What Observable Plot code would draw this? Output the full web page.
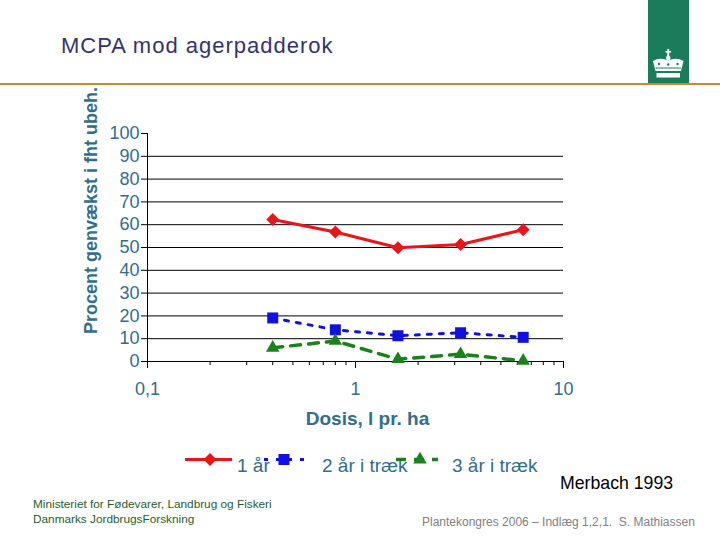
<!DOCTYPE html>
<html>
<head>
<meta charset="utf-8">
<script src="https://cdn.jsdelivr.net/npm/d3@7"></script>
<script src="https://cdn.jsdelivr.net/npm/@observablehq/plot@0.6"></script>
<style>
  body { margin: 0; background: #fff; }
  #page { position: relative; width: 720px; height: 540px; overflow: hidden; font-family: "Liberation Sans", Arial, sans-serif; }
  .abs { position: absolute; line-height: 1; white-space: nowrap; }
</style>
</head>
<body>
<div id="page">
  <div id="chart" class="abs" style="left:0;top:0"></div>
  <div class="abs" style="left:61px;top:34.5px;font-size:22px;letter-spacing:1px;color:#35336e">MCPA mod agerpadderok</div>
  <div class="abs" style="left:0;top:83px;width:720px;height:1.5px;background:#c8893a"></div>
  <svg class="abs" style="left:648px;top:0" width="41" height="84">
    <rect x="0" y="0" width="41" height="83" fill="#1b7c5c"/>
    <rect x="19.2" y="49" width="2" height="7" fill="#fff"/>
    <rect x="17.5" y="51" width="5.5" height="1.6" fill="#fff"/>
    <circle cx="20.2" cy="58" r="2.3" fill="#fff"/>
    <path d="M5,61 Q12,57 20.2,60.5 Q28.5,57 35.5,61 L33,71 L7.5,71 Z" fill="#fff"/>
    <circle cx="11" cy="64" r="1.2" fill="#1b7c5c"/>
    <circle cx="20.2" cy="64.5" r="1.2" fill="#1b7c5c"/>
    <circle cx="29.5" cy="64" r="1.2" fill="#1b7c5c"/>
    <rect x="7.5" y="67.5" width="25.5" height="1" fill="#1b7c5c"/>
    <rect x="8.5" y="73" width="23.5" height="4.5" fill="#fff"/>
  </svg>
  <svg id="legend" class="abs" style="left:0;top:440px" width="720" height="40"></svg>
  <div class="abs" style="left:560px;top:475px;font-size:17.7px;color:#000">Merbach 1993</div>
  <div class="abs" style="left:33px;top:499px;font-size:11.8px;color:#1f5e2e">Ministeriet for Fødevarer, Landbrug og Fiskeri</div>
  <div class="abs" style="left:33px;top:514px;font-size:11.8px;color:#1f5e2e">Danmarks JordbrugsForskning</div>
  <div class="abs" style="left:422px;top:515.8px;font-size:12px;color:#808080">Plantekongres 2006 – Indlæg 1,2,1.&nbsp; S. Mathiassen</div>
</div>
<script>
// ---- data ----
const doses = [0.4, 0.8, 1.6, 3.2, 6.4];
const seriesNames = ["1 år", "2 år i træk", "3 år i træk"];
const year1 = [62.3, 56.8, 49.9, 51.3, 57.8];
const year2 = [19.1, 13.9, 11.3, 12.6, 10.6];
const year3 = [6.0, 9.0, 1.0, 3.2, 0.3];
const yTicks = [0, 10, 20, 30, 40, 50, 60, 70, 80, 90, 100];
const gridValues = [10, 20, 30, 40, 50, 60, 70, 80, 90];
const xTicks = [0.1, 1, 10];
const xTickLabels = ["0,1", "1", "10"];
const xMinorTicks = [0.2, 0.3, 0.4, 0.5, 0.6, 0.7, 0.8, 0.9, 2, 3, 4, 5, 6, 7, 8, 9];
const xLabel = "Dosis, l pr. ha";
const yLabel = "Procent genvækst i fht ubeh.";

// ---- styles ----
const styles = [
  { color: "#e8151b", symbol: "diamond2", r: 5.8, dash: null, width: 3 },
  { color: "#1010e0", symbol: "square", r: 6.2, dash: "4,8", width: 3 },
  { color: "#17831a", symbol: "triangle", r: 5, dash: "10,8", width: 3.5 }
];
const textColor = "#316d8c";

const allValues = [year1, year2, year3];
const rows = allValues.flatMap((vals, si) =>
  vals.map((v, i) => ({ series: seriesNames[si], si, dose: doses[i], value: v }))
);

const lineMarks = styles.flatMap((s, si) => {
  const d = rows.filter(r => r.si === si);
  return [
    Plot.line(d, { x: "dose", y: "value", stroke: s.color, strokeWidth: s.width, strokeDasharray: s.dash, curve: "linear" }),
    Plot.dot(d, { x: "dose", y: "value", symbol: () => s.symbol, fill: s.color, r: s.r, stroke: "none" })
  ];
});

const chart = Plot.plot({
  width: 720,
  height: 540,
  marginLeft: 147,
  marginRight: 157,
  marginTop: 133,
  marginBottom: 179,
  x: { type: "log", domain: [0.1, 10] },
  y: { domain: [0, 100] },
  style: { fontFamily: "'Liberation Sans', Arial, sans-serif", background: "transparent", color: "black" },
  marks: [
    Plot.ruleY(gridValues, { stroke: "black", strokeWidth: 1 }),
    Plot.ruleY([0], { stroke: "black", strokeWidth: 1 }),
    Plot.ruleX([0.1], { y1: 0, y2: 100, stroke: "black", strokeWidth: 1 }),
    Plot.axisY({ ticks: yTicks, tickSize: 6, tickPadding: 2, fontSize: 18, fill: textColor, stroke: "black", label: null, tickFormat: d => String(d) }),
    Plot.axisX({ ticks: xMinorTicks, tickSize: 4, tickFormat: () => "", label: null, stroke: "black" }),
    Plot.axisX({ ticks: xTicks, tickSize: 7, tickPadding: 14, fontSize: 18, fill: textColor, stroke: "black", label: null,
                 tickFormat: d => xTickLabels[xTicks.indexOf(d)] }),
    Plot.text([xLabel], { text: d => d, frameAnchor: "bottom", textAnchor: "middle", lineAnchor: "middle", dx: 12, dy: 57, fontSize: 19, fontWeight: "bold", fill: textColor }),
    Plot.text([yLabel], { text: d => d, frameAnchor: "left", textAnchor: "middle", lineAnchor: "middle", rotate: -90, dx: -56, dy: -37, fontSize: 18, fontWeight: "bold", fill: textColor }),
    ...lineMarks
  ]
});
document.getElementById("chart").appendChild(chart);

// ---- legend ----
const legendLayout = [
  { x1: 185, x2: 232, mx: 210, tx: 237 },
  { x1: 264, x2: 306, mx: 284, tx: 322 },
  { x1: 396, x2: 438, mx: 420, tx: 452 }
];
const symbolMap = { diamond2: d3.symbolDiamond2, square: d3.symbolSquare, triangle: d3.symbolTriangle };
const leg = d3.select("#legend");
seriesNames.forEach((name, i) => {
  const s = styles[i], L = legendLayout[i];
  const ly = 19.5;
  leg.append("line").attr("x1", L.x1).attr("x2", L.x2).attr("y1", ly).attr("y2", ly)
    .attr("stroke", s.color).attr("stroke-width", s.width).attr("stroke-dasharray", s.dash);
  leg.append("path").attr("d", d3.symbol(symbolMap[s.symbol], Math.PI * s.r * s.r)())
    .attr("transform", `translate(${L.mx},${ly})`).attr("fill", s.color);
  leg.append("text").attr("x", L.tx).attr("y", 31.7).attr("font-size", 19)
    .attr("font-family", "'Liberation Sans', Arial, sans-serif").attr("fill", textColor).text(name);
});
</script>
</body>
</html>
